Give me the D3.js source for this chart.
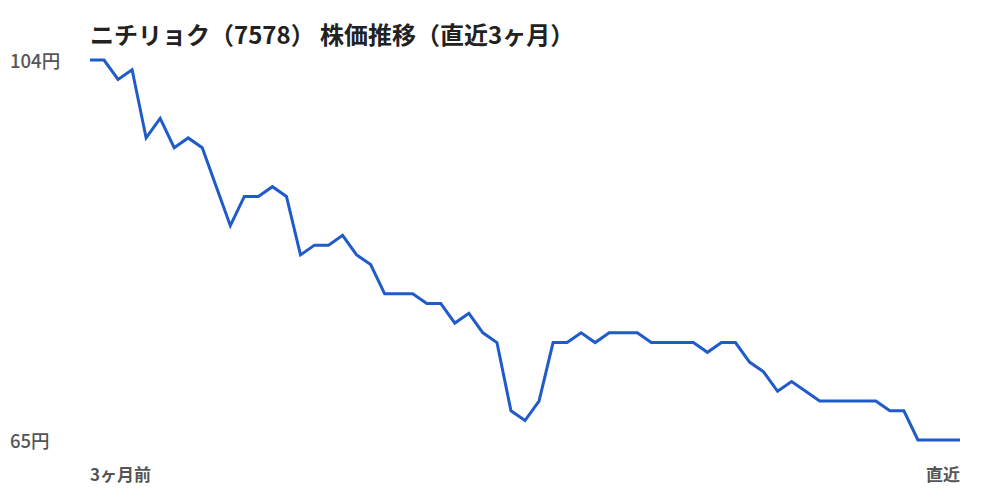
<!DOCTYPE html>
<html><head><meta charset="utf-8">
<script src="https://cdn.jsdelivr.net/npm/d3@7"></script>
<style>
html,body{margin:0;padding:0;background:#fff;}
text{font-family:"Noto Sans CJK JP","Noto Sans",sans-serif;}
</style></head>
<body><svg id="c" width="1000" height="500"></svg>
<script>
const title = "ニチリョク（7578） 株価推移（直近3ヶ月）";
const prices = [104,104,102,103,96,98,95,96,95,91,87,90,90,91,90,84,85,85,86,84,83,80,80,80,79,79,77,78,76,75,68,67,69,75,75,76,75,76,76,76,75,75,75,75,74,75,75,73,72,70,71,70,69,69,69,69,69,68,68,65,65,65,65];
const yTickLabels = ["104円","65円"];
const xTickLabels = ["3ヶ月前","直近"];

const svg = d3.select("#c");
const x = d3.scaleLinear().domain([0, prices.length-1]).range([90, 960]);
const y = d3.scaleLinear().domain([d3.min(prices), d3.max(prices)]).range([440, 60]);

svg.append("text").attr("x",90).attr("y",44)
  .attr("font-size",24).attr("font-weight",700).attr("fill","#222").text(title);

svg.append("path").datum(prices)
  .attr("d", d3.line().x((d,i)=>x(i)).y(d=>y(d)))
  .attr("fill","none").attr("stroke","#1f5bc9").attr("stroke-width",3)
  .attr("stroke-linejoin","miter");

const yVals = [d3.max(prices), d3.min(prices)];
svg.selectAll(".yl").data(yVals).enter().append("text")
  .attr("x",10).attr("y",d=>y(d)+8)
  .attr("font-size",18.5).attr("fill","#555").attr("font-weight",500)
  .text((d,i)=>yTickLabels[i]);

svg.append("text").attr("x",90).attr("y",481).attr("font-size",17).attr("font-weight",700)
  .attr("fill","#555").text(xTickLabels[0]);
svg.append("text").attr("x",960).attr("y",481).attr("text-anchor","end").attr("font-size",17).attr("font-weight",700)
  .attr("fill","#555").text(xTickLabels[1]);
</script></body></html>
